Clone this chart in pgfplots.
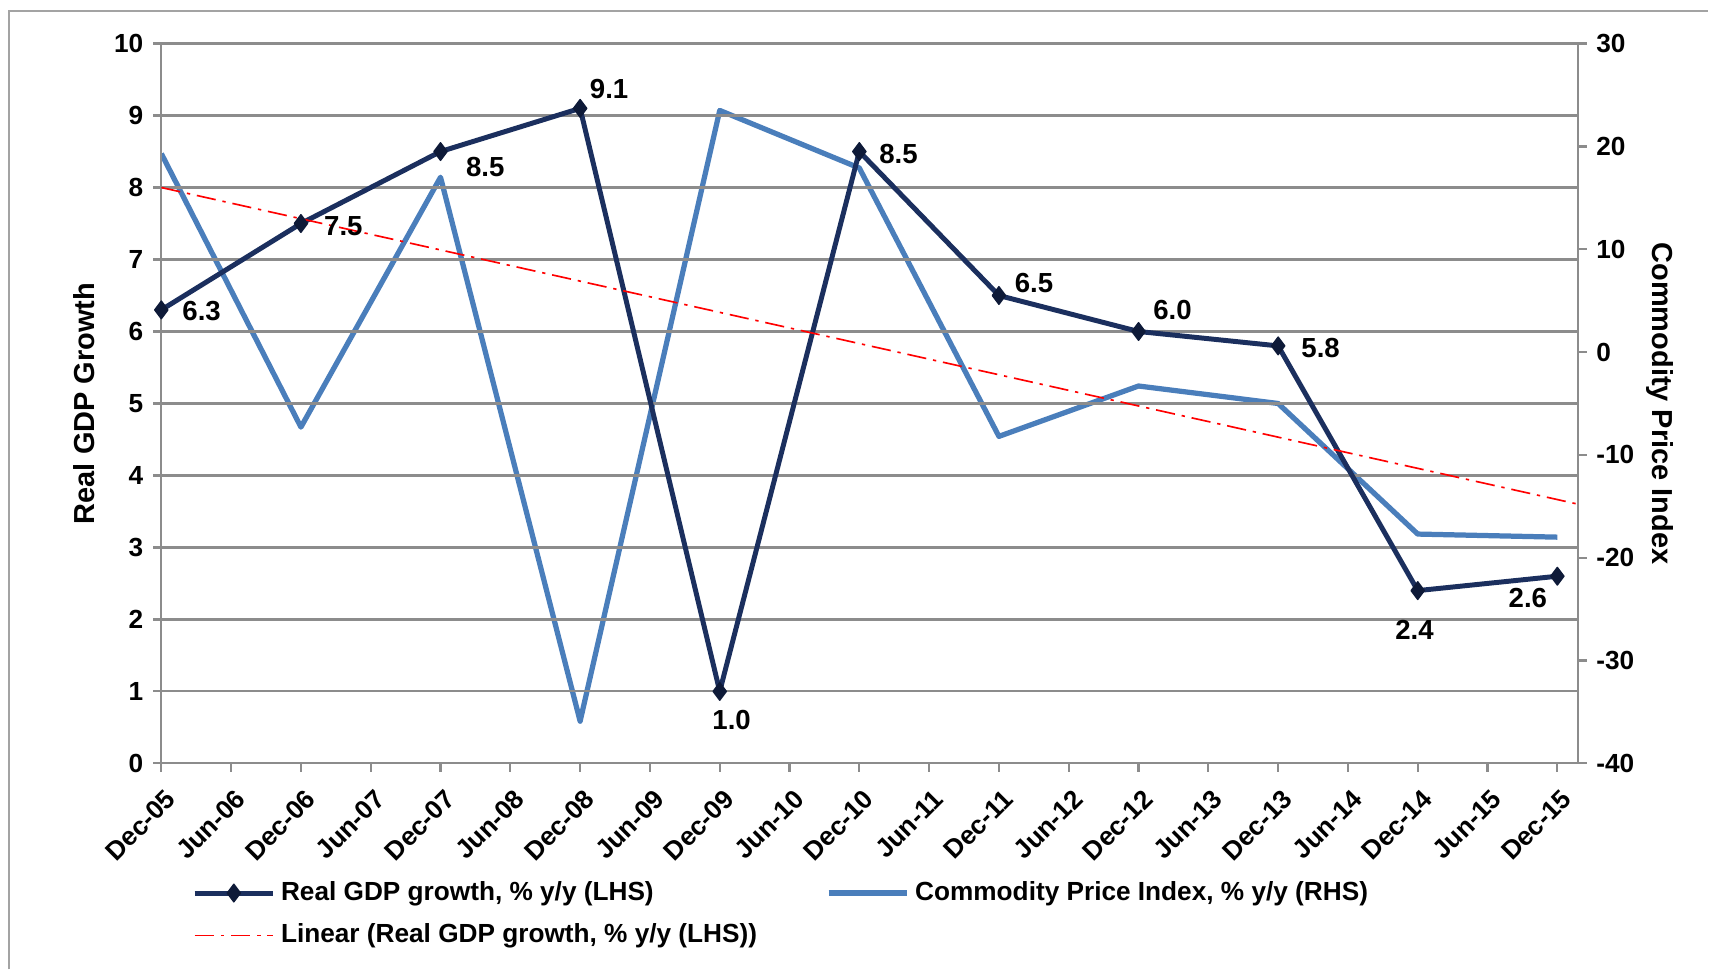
\documentclass[border=0pt]{standalone}
\usepackage{fontspec}
\setmainfont{Liberation Sans}
\usepackage{pgfplots}
\pgfplotsset{compat=1.18}
\definecolor{gdpline}{HTML}{1B2F5E}
\definecolor{gdpmark}{HTML}{0E1A38}
\definecolor{cpiline}{HTML}{4A7EBB}
\definecolor{gridgray}{HTML}{8C8C8C}

\begin{document}
\begin{tikzpicture}[font=\bfseries]
\pgfplotsset{
  every axis/.append style={
    scale only axis, width=513.8pt, height=261pt,
    xmin=0, xmax=20.3,
    axis line style={gridgray, line width=0.8pt},
    tick style={gridgray, line width=0.8pt},
    major tick length=3pt, tick align=outside,
    tick label style={font=\bfseries\fontsize{9.5}{11}\selectfont},
    label style={font=\bfseries\fontsize{10.5}{12}\selectfont},
    /pgf/number format/assume math mode=true,
  }
}
% right axis: commodity prices
\begin{axis}[
  name=rhs,
  axis y line*=right, axis x line=none,
  ymin=-40, ymax=30, ytick={-40,-30,...,30},
  ylabel={Commodity Price Index},
  ylabel style={rotate=180, yshift=-2.5pt},
]
\addplot[cpiline, line width=1.9pt, line join=round] coordinates {
  (0,19.3) (2,-7.3) (4,17.0) (6,-35.9) (8,23.5) (10,17.9)
  (12,-8.2) (14,-3.3) (16,-5.0) (18,-17.7) (20,-18.0)
};
\end{axis}
% left axis: real GDP growth
\begin{axis}[
  name=lhs,
  axis y line*=left, axis x line*=bottom,
  ymin=0, ymax=10, ytick={0,1,...,10},
  ymajorgrids, grid style={gridgray, line width=0.8pt},
  xtick={0,1,...,20},
  xticklabels={Dec-05,Jun-06,Dec-06,Jun-07,Dec-07,Jun-08,Dec-08,Jun-09,Dec-09,Jun-10,Dec-10,Jun-11,Dec-11,Jun-12,Dec-12,Jun-13,Dec-13,Jun-14,Dec-14,Jun-15,Dec-15},
  x tick label style={rotate=45, anchor=north east, yshift=-1.5pt},
  ylabel={Real GDP Growth},
  legend style={at={(0.0155,-0.148)}, anchor=north west, draw=none, fill=none,
    font=\bfseries\fontsize{9.5}{11.5}\selectfont, legend columns=2,
    /tikz/every even column/.append style={column sep=23pt},
    row sep=3pt},
  legend cell align=left,
  legend image code/.code={\draw[mark repeat=2,mark phase=2,#1] plot coordinates {(0cm,0cm) (0.5cm,0cm) (1cm,0cm)};},
]
\addplot[gdpline, line width=1.8pt, line join=round,
  mark=diamond*, mark size=3.2pt, mark options={gdpmark, fill=gdpmark, line width=0.5pt},
  nodes near coords, point meta=explicit symbolic,
  visualization depends on={value \thisrow{dx} \as \lbldx},
  visualization depends on={value \thisrow{dy} \as \lbldy},
  every node near coord/.append style={anchor=center, xshift=\lbldx pt, yshift=\lbldy pt,
    text=black, inner sep=0pt, font=\bfseries\fontsize{10}{12}\selectfont}]
  table[x=x, y=y, meta=lbl] {
x  y   lbl dx    dy
0  6.3 6.3 14.6  -0.4
2  7.5 7.5 15.4  -0.8
4  8.5 8.5 16.2  -5.5
6  9.1 9.1 10.5  7.1
8  1.0 1.0 4.3   -10.3
10 8.5 8.5 14.2  -0.8
12 6.5 6.5 12.7  4.7
14 6.0 6.0 12.3  7.9
16 5.8 5.8 15.4  -0.8
18 2.4 2.4 -1.2  -14.2
20 2.6 2.6 -10.7 -7.9
};
\addlegendentry{Real GDP growth, \% y/y (LHS)}
\addlegendimage{cpiline, line width=1.9pt}
\addlegendentry{Commodity Price Index, \% y/y (RHS)}
\addplot[red, line width=0.6pt, dash pattern=on 7pt off 2.5pt on 1.2pt off 2.5pt] coordinates {(0,8.0) (20.3,3.6)};
\addlegendentry{Linear (Real GDP growth, \% y/y (LHS))}
\end{axis}
\path (lhs.south west) ++(-58.5pt,-74.7pt) coordinate (bbsw);
\path (lhs.north east) ++(47pt,15.8pt) coordinate (bbne);
\path (bbsw) rectangle (bbne);
\draw[gridgray!80, line width=0.8pt] ([xshift=3.2pt]bbsw) |- ([yshift=-4pt]bbne);
\end{tikzpicture}
\end{document}
